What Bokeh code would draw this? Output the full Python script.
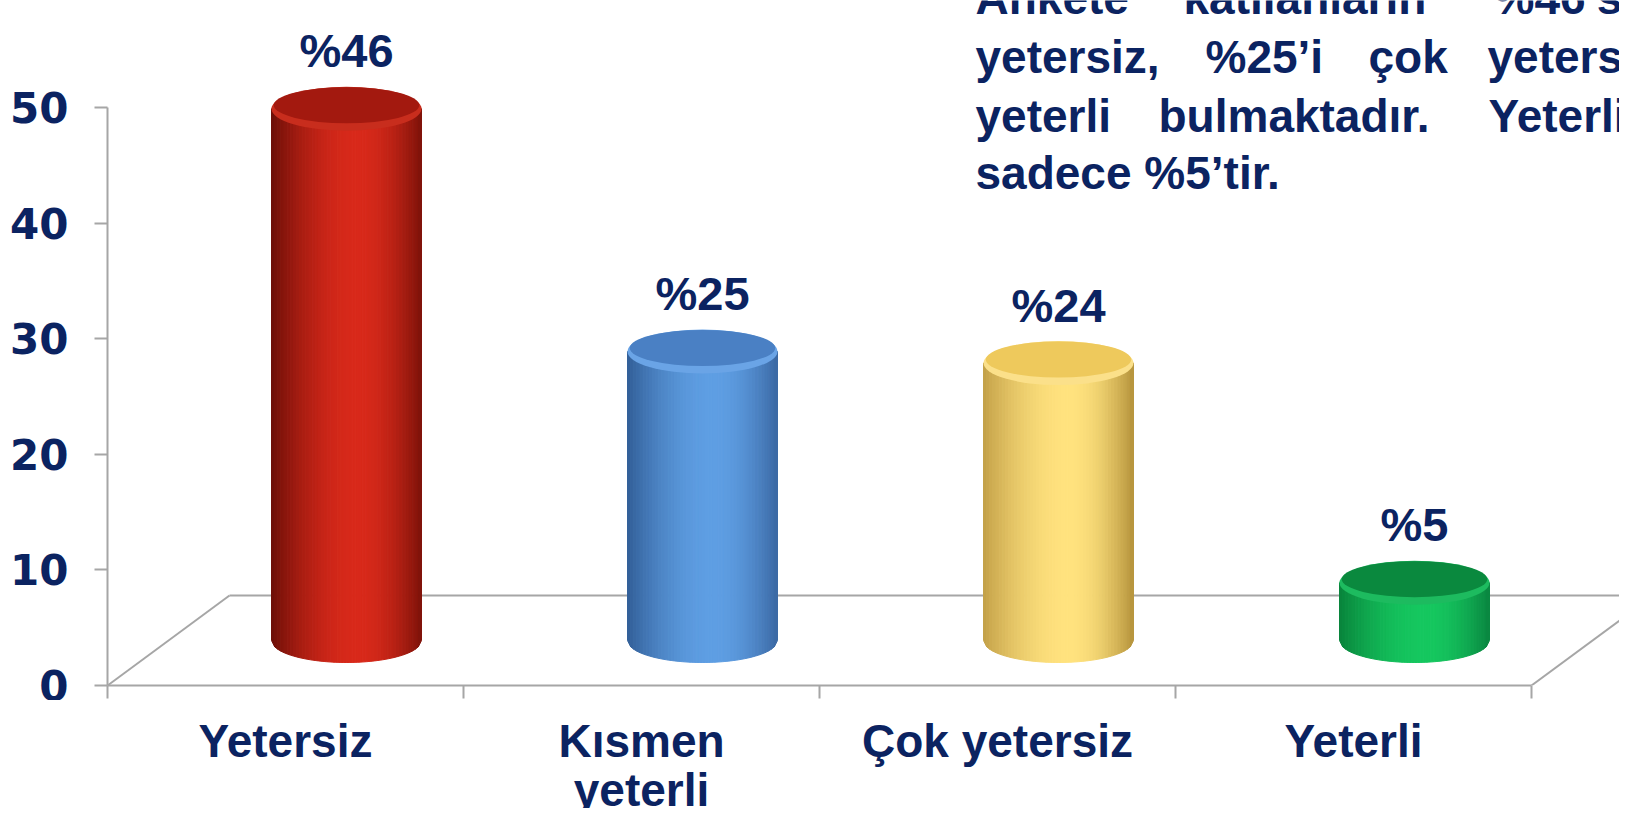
import numpy as np
from bokeh.plotting import figure
from bokeh.layouts import column
from bokeh.models import Range1d, FixedTicker
from bokeh.core.properties import value
from bokeh.embed import file_html
from bokeh.resources import INLINE

# ---------------- data ----------------
categories = ["Yetersiz", "Kısmen\nyeterli", "Çok yetersiz", "Yeterli"]
values = [46, 25, 24, 5]
value_labels = ["%46", "%25", "%24", "%5"]
y_ticks = [0, 10, 20, 30, 40, 50]

note_lines = [
    ["Ankete", "katılanların", "%46’sı"],
    ["yetersiz,", "%25’i", "çok", "yetersiz,"],
    ["yeterli", "bulmaktadır.", "Yeterli"],
    ["sadece %5’tir."],
]

# ---------------- style ----------------
NAVY = "#0b2361"
GRAY = "#a6a6a6"
body_left = ["#6a0e07", "#315d96", "#c29f47", "#08823a"]
body_mid = ["#d8291a", "#5e9ee3", "#ffe27e", "#15c75f"]
body_right = ["#7c1209", "#3a67a2", "#b4923a", "#09843f"]
top_face = ["#a3190f", "#4a80c4", "#eec95c", "#0a893e"]
top_rim = ["#c82d1d", "#6aa4e6", "#fbe08a", "#1dbb5f"]

W, H = 1619, 808
H1 = 700                            # main chart height; category names below
LEFT, ZERO_Y = 107, 685             # frame left / value-0 line in px
PX_X, PX_Y = 356.0, 11.56           # px per x unit / per y unit
X_END = (W - LEFT) / PX_X
Y_END = ZERO_Y / PX_Y
BASE_FIX = 16                       # alphabetic-baseline correction, px


def fx(px):
    return (px - LEFT) / PX_X


def fy(px):
    return (ZERO_Y - px) / PX_Y


note_x = [[975, 1183, 1493], [975, 1205, 1368, 1487], [975, 1158, 1488], [975]]
note_base = [13, 72, 131, 188]
CAT_TOP = 714

DX = 122 / PX_X     # floor depth (x)
DY = 90 / PX_Y      # floor depth (y)
R = 75 / PX_X       # cylinder radius (x units)
B = 22 / PX_Y       # ellipse half-height (y units)
Y0 = DY / 2
OFF = DX / 2

p = figure(width=W, height=H1, x_range=Range1d(0, X_END), y_range=Range1d(0, Y_END),
           output_backend="svg", toolbar_location=None,
           min_border_left=LEFT, min_border_right=0, min_border_top=0,
           min_border_bottom=H1 - ZERO_Y)
p.xgrid.visible = False
p.ygrid.visible = False
p.outline_line_color = None
p.background_fill_color = "white"
p.border_fill_color = "white"

# y axis
ya = p.yaxis[0]
ya.ticker = FixedTicker(ticks=y_ticks, minor_ticks=[])
ya.bounds = (0, 50)
ya.axis_line_color = GRAY
ya.axis_line_width = 2
ya.major_tick_line_color = GRAY
ya.major_tick_line_width = 2
ya.major_tick_in = 0
ya.major_tick_out = 13
ya.minor_tick_line_color = None
ya.major_label_standoff = 26
ya.major_label_text_font = "DejaVu Sans"
ya.major_label_text_font_style = "bold"
ya.major_label_text_font_size = "42px"
ya.major_label_text_color = NAVY

# x axis: category boundaries as ticks
n = len(categories)
centers = [i + 0.5 for i in range(n)]
xa = p.xaxis[0]
xa.ticker = FixedTicker(ticks=[], minor_ticks=list(range(n + 1)))
xa.bounds = (0, n)
xa.axis_line_color = GRAY
xa.axis_line_width = 2
xa.major_tick_line_color = None
xa.major_tick_out = 0
xa.major_label_standoff = 0
xa.minor_tick_line_color = GRAY
xa.minor_tick_line_width = 2
xa.minor_tick_in = 0
xa.minor_tick_out = 13

# 3D floor outline
p.segment(x0=[0, DX, n], y0=[0, DY, 0], x1=[DX, X_END + 1, n + DX], y1=[DY, DY, DY],
          line_color=GRAY, line_width=2)


def hex2rgb(h):
    h = h.lstrip("#")
    return np.array([int(h[i:i + 2], 16) for i in (0, 2, 4)], dtype=float)


def mix(a, b, w):
    c = hex2rgb(a) * (1 - w) + hex2rgb(b) * w
    return "#%02x%02x%02x" % tuple(int(round(v)) for v in c)


def shade(t, i):
    pk = 0.15
    if t < pk:
        w = np.sin(np.pi / 2 * (t + 1) / (pk + 1))
        return mix(body_left[i], body_mid[i], w ** 0.9)
    w = np.sin(np.pi / 2 * (1 - t) / (1 - pk))
    return mix(body_right[i], body_mid[i], w ** 0.9)


NS = 48
xs, ys, cols = [], [], []
for i, v in enumerate(values):
    cx = i + 0.5 + OFF
    top = Y0 + v
    edges = np.linspace(-R, R, NS + 1)
    for j in range(NS):
        a, b = edges[j], edges[j + 1]
        ya_ = Y0 - B * np.sqrt(max(0.0, 1 - (a / R) ** 2))
        yb_ = Y0 - B * np.sqrt(max(0.0, 1 - (b / R) ** 2))
        xs.append([cx + a, cx + b, cx + b, cx + a])
        ys.append([top, top, yb_, ya_])
        cols.append(shade((a + b) / (2 * R), i))
p.patches(xs, ys, fill_color=cols, line_color=cols, line_width=1)

cxs = [i + 0.5 + OFF for i in range(n)]
tops = [Y0 + v for v in values]
p.ellipse(x=cxs, y=tops, width=2 * R, height=2 * B, fill_color=top_rim, line_color=None)
p.ellipse(x=cxs, y=[t + 0.16 * B for t in tops], width=2 * R * 0.97, height=2 * B * 0.82,
          fill_color=top_face, line_color=None)

# value labels
p.text(x=cxs, y=[t + (42 + BASE_FIX) / PX_Y for t in tops], text=value_labels,
       text_font=value("Liberation Sans"), text_font_style="bold", text_font_size="47px",
       text_color=NAVY, text_align="center", text_baseline="alphabetic")

# note text (justified words)
wx, wy, wt = [], [], []
for words, xpx, base in zip(note_lines, note_x, note_base):
    for w, xp in zip(words, xpx):
        wx.append(fx(xp))
        wy.append(fy(base - BASE_FIX))
        wt.append(w)
p.text(x=wx, y=wy, text=wt, text_font=value("Liberation Sans"), text_font_style="bold",
       text_font_size="46px", text_color=NAVY, text_align="left", text_baseline="alphabetic")

# category names under the x axis (same x scale)
H2 = H - H1
p2 = figure(width=W, height=H2, x_range=p.x_range, y_range=Range1d(H2, 0),
            output_backend="svg", toolbar_location=None,
            x_axis_location=None, y_axis_location=None,
            min_border_left=LEFT, min_border_right=0, min_border_top=0, min_border_bottom=0)
p2.xgrid.visible = False
p2.ygrid.visible = False
p2.outline_line_color = None
p2.background_fill_color = "white"
p2.border_fill_color = "white"
p2.text(x=centers, y=[CAT_TOP - H1] * n, text=categories,
        text_font=value("Liberation Sans"), text_font_style="bold", text_font_size="46px",
        text_color=NAVY, text_align="center", text_baseline="top", text_line_height=0.95)

open("out.html", "w").write(file_html(column(p, p2, spacing=0), INLINE))
